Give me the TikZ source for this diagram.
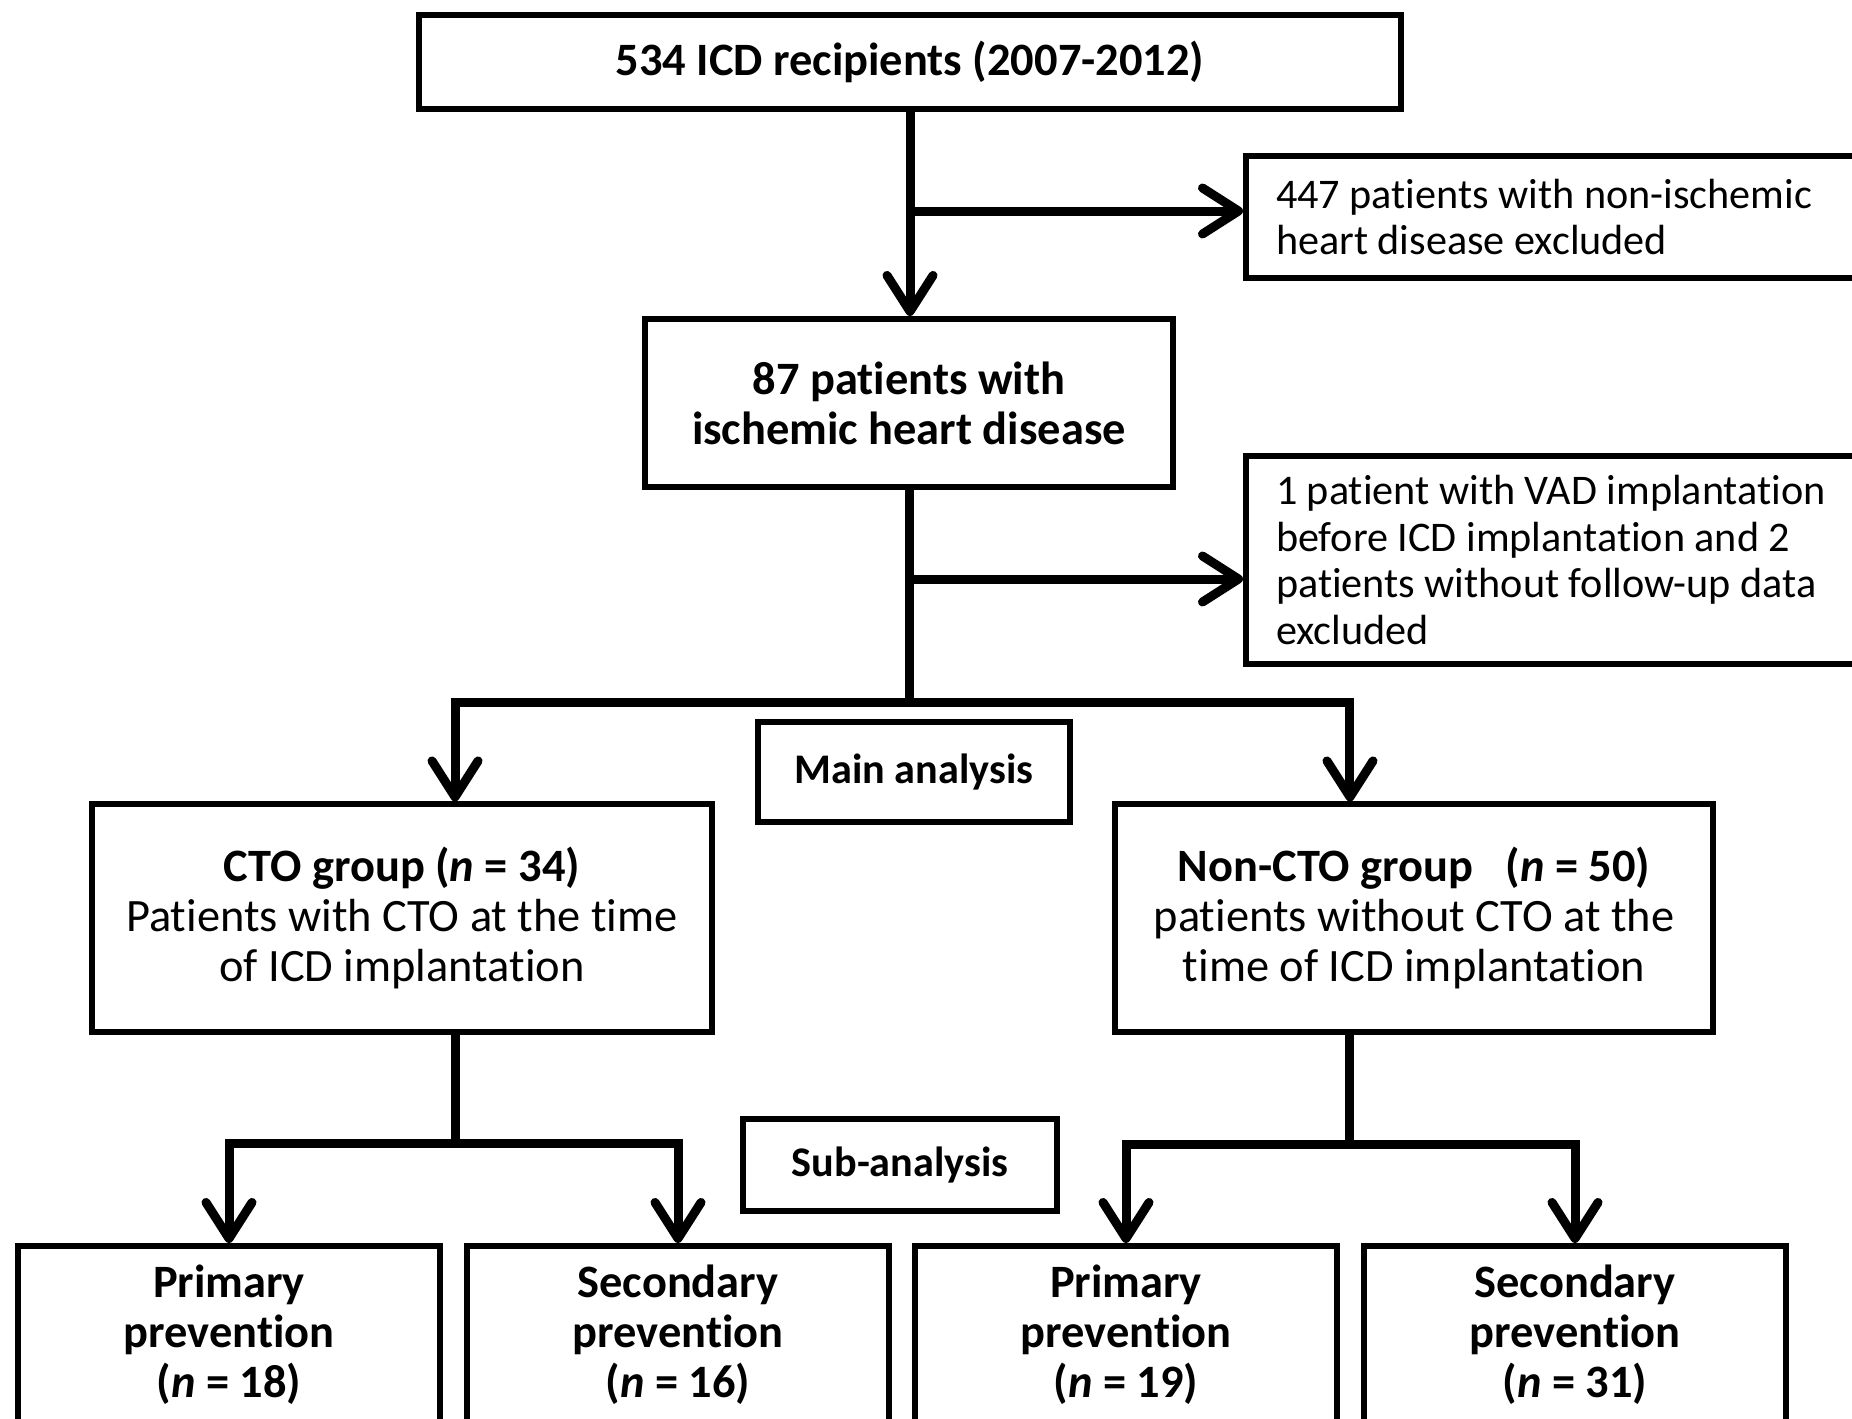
\documentclass[tikz,border=0pt]{standalone}
\usepackage{fontspec}
\setmainfont{Carlito}[Ligatures=NoCommon]
\usetikzlibrary{arrows.meta}

\begin{document}
\begin{tikzpicture}[x=0.01cm,y=-0.01cm,
        box/.style={draw,line width=0.6mm,align=center,inner sep=0pt,font=\fontsize{13.2}{14.2}\selectfont},
        bbox/.style={box,font=\fontsize{13.2}{14.2}\selectfont\bfseries},
        tag/.style={box,font=\fontsize{12}{14}\selectfont\bfseries},
        xbox/.style={box,align=flush left,anchor=west,text width=7cm,inner xsep=0.3cm,font=\fontsize{12}{13.3}\selectfont},
        link/.style={line width=0.9mm},
        arr/.style={link,-{Straight Barb[length=3.6mm,width=4.6mm,round]}}]
    \useasboundingbox (0,0) rectangle (1852,1418);
    \fill[white] (0,0) rectangle (1852,1418);
    \clip (0,0) rectangle (1852,1418);
    % boxes
    \node[bbox,minimum width=9.82cm,minimum height=0.94cm] (rec) at (910,62) {534 ICD recipients (2007-2012)};
    \node[xbox,minimum height=1.22cm] (excl1) at (1243,217) {447 patients with non-ischemic\\heart disease excluded};
    \node[bbox,minimum width=5.28cm,minimum height=1.68cm] (ihd) at (909,403) {87 patients with\\ischemic heart disease};
    \node[xbox,minimum height=2.07cm] (excl2) at (1243,560) {1 patient with VAD implantation\\before ICD implantation and 2\\patients without follow-up data\\excluded};
    \node[tag,minimum width=3.12cm,minimum height=1.0cm] (main) at (914,772) {Main analysis};
    \node[box,minimum width=6.2cm,minimum height=2.27cm] (cto) at (402,918) {\textbf{CTO group (\textit{n} = 34)}\\Patients with CTO at the time\\of ICD implantation};
    \node[box,minimum width=5.98cm,minimum height=2.27cm] (nc) at (1414,918) {\textbf{Non-CTO group\hspace{0.7em}(\textit{n} = 50)}\\patients without CTO at the\\time of ICD implantation};
    \node[tag,minimum width=3.14cm,minimum height=0.91cm] (sub) at (900,1165) {Sub-analysis};
    \foreach \x/\nm/\ttl/\n in {229/pc/Primary/18, 678/sc/Secondary/16, 1126/pn/Primary/19, 1575/sn/Secondary/31}
        \node[bbox,minimum width=4.22cm,minimum height=1.78cm] (\nm) at (\x,1335) {\ttl\\prevention\\(\textit{n} = \n)};
    % connectors
    \draw[arr] (rec.south) -- (rec.south |- ihd.north);
    \draw[arr] (rec.south |- excl1.west) ++(0,-6) coordinate (x1) -- (x1 -| excl1.west);
    \draw[arr] (ihd.south |- excl2.west) ++(0,19) coordinate (x2) -- (x2 -| excl2.west);
    \coordinate (ctoin) at ([xshift=3.66cm]cto.north west);
    \coordinate (ncin) at ([xshift=2.38cm]nc.north west);
    \draw[link] (ihd.south) -- ++(0,212) coordinate (split1);
    \draw[arr] (split1) -| (ctoin);
    \draw[arr] (split1) -| (ncin);
    \draw[link] (ctoin |- cto.south) -- ++(0,109) coordinate (split2);
    \draw[arr] (split2) -| (pc.north);
    \draw[arr] (split2) -| (sc.north);
    \draw[link] (ncin |- nc.south) -- ++(0,110) coordinate (split3);
    \draw[arr] (split3) -| (pn.north);
    \draw[arr] (split3) -| (sn.north);
\end{tikzpicture}
\end{document}
